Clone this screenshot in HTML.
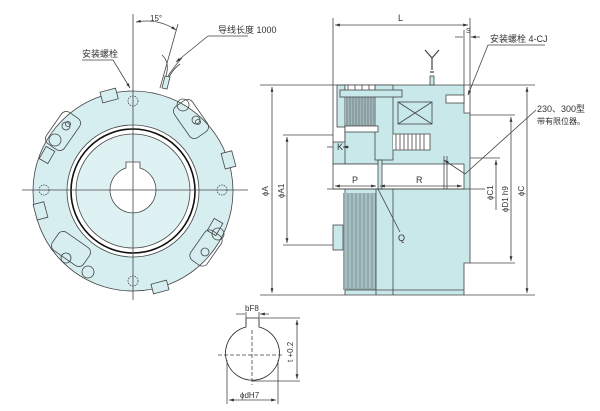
<!DOCTYPE html>
<html><head><meta charset="utf-8"><style>
html,body{margin:0;padding:0;background:#fff;}
svg{display:block;}
text{font-family:"Liberation Sans","Noto Sans CJK SC",sans-serif;fill:#333;}
</style></head><body>
<svg width="600" height="411" viewBox="0 0 600 411" xmlns="http://www.w3.org/2000/svg">
<defs>
<marker id="a" viewBox="0 0 10 10" refX="10" refY="5" markerWidth="6" markerHeight="6" orient="auto-start-reverse"><path d="M0,2 L10,5 L0,8z" fill="#333"/></marker>
</defs>
<g stroke="#444" stroke-width="0.8" fill="none">
<!-- FRONT VIEW -->
<circle cx="133" cy="191" r="100" fill="#d6eef0"/>
<circle cx="133" cy="191" r="66" fill="#fff"/>
<circle cx="133" cy="191" r="62" stroke="#111" stroke-width="1.6"/>
<circle cx="133" cy="191" r="57" fill="#dff2f3"/>
<path d="M126,168 L126,162 L140,162 L140,168 A23,23 0 1 1 126,168z" fill="#fff"/>
<g fill="#d6eef0">
<rect x="101" y="90" width="16" height="11" transform="rotate(-15 109 95)"/>
<rect x="223" y="152" width="11" height="16" transform="rotate(-15 228 160)"/>
<rect x="35" y="203" width="11" height="16" transform="rotate(-15 40 211)"/>
<rect x="152" y="282" width="16" height="10" transform="rotate(-15 160 287)"/>
<rect x="210" y="220" width="10" height="14" transform="rotate(30 215 227)"/>
<rect x="42" y="148" width="10" height="14" transform="rotate(30 47 155)"/>
</g>
<g>
<rect x="52" y="112" width="22" height="38" rx="6" transform="rotate(35 63 131)"/>
<circle cx="55" cy="140" r="6"/><circle cx="66" cy="126" r="4"/><circle cx="68" cy="124" r="2.5"/>
<rect x="180" y="100" width="22" height="38" rx="6" transform="rotate(-35 191 119)"/>
<circle cx="183" cy="105" r="6"/><circle cx="196" cy="120" r="4"/><circle cx="198" cy="122" r="2.5"/>
<rect x="60" y="230" width="22" height="38" rx="6" transform="rotate(-55 71 249)"/>
<circle cx="66" cy="258" r="5"/><circle cx="88" cy="272" r="6"/>
<rect x="196" y="230" width="20" height="36" rx="6" transform="rotate(35 206 248)"/>
<circle cx="218" cy="234" r="6"/><circle cx="205" cy="252" r="4"/>
</g>
<g stroke-dasharray="1.5 1">
<circle cx="133" cy="101" r="5"/><circle cx="133" cy="281" r="5"/><circle cx="44" cy="190" r="5"/><circle cx="222" cy="190" r="5"/>
</g>
<line x1="133" y1="14" x2="133" y2="300"/>
<line x1="22" y1="190" x2="248" y2="190"/>
<line x1="178" y1="24" x2="160" y2="88"/>
<path d="M136,22 Q158,18 176,30" marker-start="url(#a)" marker-end="url(#a)"/>
<path d="M162,88 L165,76 L170,77 L167,89z" fill="#d6eef0"/>
<path d="M166,76 Q170,62 162,55 M168,76 Q176,64 182,58 M169,77 Q174,68 180,64"/>
<path d="M208,36 L248,36 M208,36 L176,62" marker-end="url(#a)"/>
<path d="M82,60 L113,60 L130,88" marker-end="url(#a)"/>
<!-- SIDE VIEW -->
<path d="M345,85 L464,85 L464,113 L470,113 L470,263 L464,263 L464,295 L345,295z" fill="#c8e8ea"/>
<g fill="#c8e8ea">
<rect x="337" y="85" width="8" height="42"/>
<rect x="333" y="142" width="45" height="22"/>
<rect x="345" y="128" width="33" height="36"/>
<rect x="375" y="85" width="18" height="75"/>
</g>
<rect x="333" y="164" width="131" height="25" fill="#fff"/>
<rect x="345" y="93" width="30" height="33" fill="#9fb8bb" stroke="none"/>
<g stroke="#666" stroke-width="0.6">
<path d="M347,93V126M350,93V126M353,93V126M356,93V126M359,93V126M362,93V126M365,93V126M368,93V126M371,93V126M374,93V126"/>
</g>
<rect x="345" y="85" width="30" height="8" fill="#fff"/>
<path d="M348,85v8M355,85v8M362,85v8M369,85v8"/>
<rect x="345" y="126" width="33" height="6" fill="#fff"/>
<rect x="340" y="90" width="62" height="7" fill="#c8e8ea"/>
<rect x="398" y="102" width="34" height="22" fill="#c8e8ea"/>
<path d="M398,102L432,124M432,102L398,124"/>
<path d="M393,134 L430,134 L430,150 L393,150" fill="#fff"/>
<path d="M396,134V150M400,134V150M404,134V150M408,134V150M412,134V150M416,134V150M420,134V150M424,134V150"/>
<rect x="446" y="95" width="18" height="8" fill="#fff"/>
<rect x="378" y="160" width="4" height="29" fill="#c8e8ea"/>
<path d="M444,156 L444,189 M447,156 L447,189"/>
<rect x="343" y="193" width="33" height="97" fill="#92aaac" stroke="none"/>
<g stroke="#c8e8ea" stroke-width="0.7"><path d="M346,193V288M350,193V288M354,193V288M358,193V288M362,193V288M366,193V288M370,193V288M374,193V288"/></g>
<line x1="393" y1="189" x2="393" y2="295"/>
<line x1="376" y1="189" x2="376" y2="295"/>
<line x1="345" y1="290" x2="464" y2="290"/>
<rect x="333" y="225" width="10" height="25" fill="#c8e8ea"/>
<!-- wire -->
<path d="M432,70 L432,58 L425,50 M432,58 L439,50 M430,72 L434,72" stroke-width="1.2"/>
<rect x="430" y="76" width="4" height="9" fill="#c8e8ea"/>
<!-- dims side -->
<line x1="333" y1="18" x2="333" y2="142"/>
<line x1="470" y1="18" x2="470" y2="113"/>
<line x1="464" y1="30" x2="464" y2="85"/>
<path d="M335,25 L468,25" marker-start="url(#a)" marker-end="url(#a)"/>
<path d="M455,37 L463,37 M480,37 L471,37" marker-end="url(#a)"/>
<path d="M488,45 L545,45 M488,45 L468,95" marker-end="url(#a)"/>
<line x1="260" y1="85" x2="345" y2="85"/><line x1="260" y1="295" x2="345" y2="295"/>
<path d="M272,87 L272,293" marker-start="url(#a)" marker-end="url(#a)"/>
<line x1="283" y1="135" x2="333" y2="135"/><line x1="283" y1="245" x2="333" y2="245"/>
<path d="M287,137 L287,243" marker-start="url(#a)" marker-end="url(#a)"/>
<path d="M327,147 L333,147 M349,147 L343,147" marker-end="url(#a)"/>
<line x1="327" y1="189" x2="485" y2="189"/>
<path d="M335,186 L376,186" marker-start="url(#a)" marker-end="url(#a)"/>
<path d="M380,186 L462,186" marker-start="url(#a)" marker-end="url(#a)"/>
<path d="M378,189 L400,232"/>
<line x1="464" y1="85" x2="535" y2="85"/><line x1="464" y1="295" x2="535" y2="295"/>
<path d="M527,87 L527,293" marker-start="url(#a)" marker-end="url(#a)"/>
<line x1="470" y1="115" x2="515" y2="115"/><line x1="470" y1="263" x2="515" y2="263"/>
<path d="M511,117 L511,261" marker-start="url(#a)" marker-end="url(#a)"/>
<line x1="470" y1="158" x2="500" y2="158"/>
<path d="M496,160 L496,210" marker-start="url(#a)"/>
<path d="M536,110 L465,174 M465,174 L444,160" marker-end="url(#a)"/>
<!-- KEYWAY -->
<path d="M246,327 A27,27 0 1 0 259,327 L259,318 L246,318z" fill="#fff" stroke="#222"/>
<line x1="218" y1="355" x2="284" y2="355" stroke-dasharray="4 2"/>
<line x1="252" y1="330" x2="252" y2="385" stroke-dasharray="4 2"/>
<line x1="246" y1="312" x2="246" y2="327"/><line x1="259" y1="312" x2="259" y2="327"/>
<path d="M236,314 L245,314 M269,314 L260,314" marker-end="url(#a)"/>
<line x1="260" y1="318" x2="300" y2="318"/><line x1="252" y1="381" x2="300" y2="381"/>
<path d="M297,320 L297,379" marker-start="url(#a)" marker-end="url(#a)"/>
<line x1="227" y1="360" x2="227" y2="404"/><line x1="278" y1="360" x2="278" y2="404"/>
<path d="M229,400 L276,400" marker-start="url(#a)" marker-end="url(#a)"/>
</g>
<g font-size="9">
<text x="150" y="21" font-size="8">15°</text>
<text x="218" y="33">导线长度 1000</text>
<text x="82" y="57">安装螺栓</text>
<text x="398" y="21">L</text>
<text x="466" y="33" font-size="7">S</text>
<text x="490" y="42">安装螺栓 4-CJ</text>
<text x="537" y="112">230、300型</text>
<text x="537" y="124" font-size="8">带有限位器。</text>
<text x="337" y="150">K</text>
<text x="352" y="183">P</text>
<text x="416" y="183">R</text>
<text x="398" y="241">Q</text>
<text transform="translate(268,196) rotate(-90)" font-size="8">ϕA</text>
<text transform="translate(284,198) rotate(-90)" font-size="8">ϕA1</text>
<text transform="translate(493,200) rotate(-90)" font-size="8">ϕC1</text>
<text transform="translate(508,212) rotate(-90)" font-size="8">ϕD1 h9</text>
<text transform="translate(524,196) rotate(-90)" font-size="8">ϕC</text>
<text x="245" y="311" font-size="8">bF8</text>
<text transform="translate(293,362) rotate(-90)" font-size="8">t +0.2</text>
<text x="240" y="398" font-size="8">ϕdH7</text>
</g>
</svg>
</body></html>
